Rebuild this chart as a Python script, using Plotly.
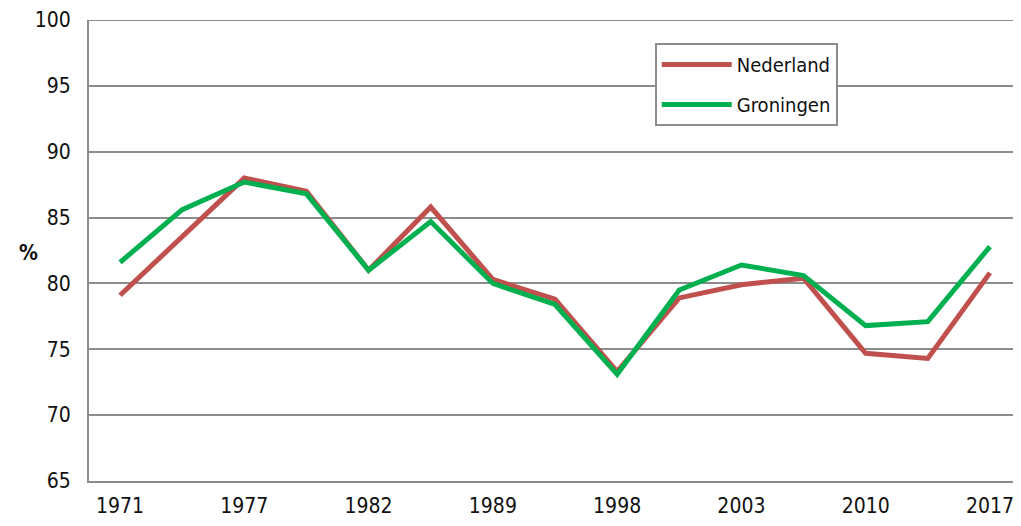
import plotly.graph_objects as go

years = ["1971", "1972", "1977", "1981", "1982", "1986", "1989", "1994",
         "1998", "2002", "2003", "2006", "2010", "2012", "2017"]
nederland = [79.1, 83.5, 88.0, 87.0, 81.0, 85.8, 80.3, 78.8, 73.3, 78.9, 79.9, 80.4, 74.7, 74.3, 80.8]
groningen = [81.6, 85.6, 87.7, 86.8, 81.0, 84.7, 80.0, 78.4, 73.1, 79.5, 81.4, 80.6, 76.8, 77.1, 82.8]
tick_labels = ["1971", "1977", "1982", "1989", "1998", "2003", "2010", "2017"]
y_min, y_max = 65, 100

FONT = "DejaVu Sans Condensed"

fig = go.Figure()
fig.add_trace(go.Scatter(x=years, y=nederland, mode="lines", name="Nederland",
                         legendgroup="a",
                         line=dict(color="#C0504D", width=5)))
fig.add_trace(go.Scatter(x=years, y=groningen, mode="lines", name="Groningen",
                         legendgroup="b",
                         line=dict(color="#00B050", width=5)))

fig.add_shape(type="line", xref="paper", yref="y", x0=0, x1=1, y0=y_max, y1=y_max,
              line=dict(color="#8c8c8c", width=2), layer="below")

fig.update_layout(
    width=1013, height=518,
    margin=dict(l=81, r=0, t=9, b=45),
    paper_bgcolor="white", plot_bgcolor="white",
    font=dict(family=FONT, size=21, color="#111111"),
    showlegend=True,
    legend=dict(x=0.607, y=0.95, xanchor="left", yanchor="top",
                bgcolor="white", bordercolor="#8c8c8c", borderwidth=2,
                font=dict(size=20), tracegroupgap=11, itemwidth=70,
                traceorder="grouped"),
    xaxis=dict(type="category", range=[-0.5, 14.5],
               tickmode="array", tickvals=tick_labels, ticktext=tick_labels,
               showgrid=False, showline=True, linecolor="#8c8c8c", linewidth=2,
               ticks="outside", ticklen=5, tickcolor="rgba(0,0,0,0)"),
    yaxis=dict(range=[y_min, y_max], dtick=5, showgrid=True, gridcolor="#8c8c8c",
               gridwidth=2, showline=True, linecolor="#8c8c8c", linewidth=2,
               zeroline=False, ticks="outside", ticklen=12,
               tickcolor="rgba(0,0,0,0)", ticklabeloverflow="allow"),
    annotations=[dict(text="<b>%</b>", xref="paper", yref="paper",
                      x=-0.077, y=0.495, showarrow=False,
                      font=dict(size=21, family=FONT))],
)

fig.write_html("out.html")
